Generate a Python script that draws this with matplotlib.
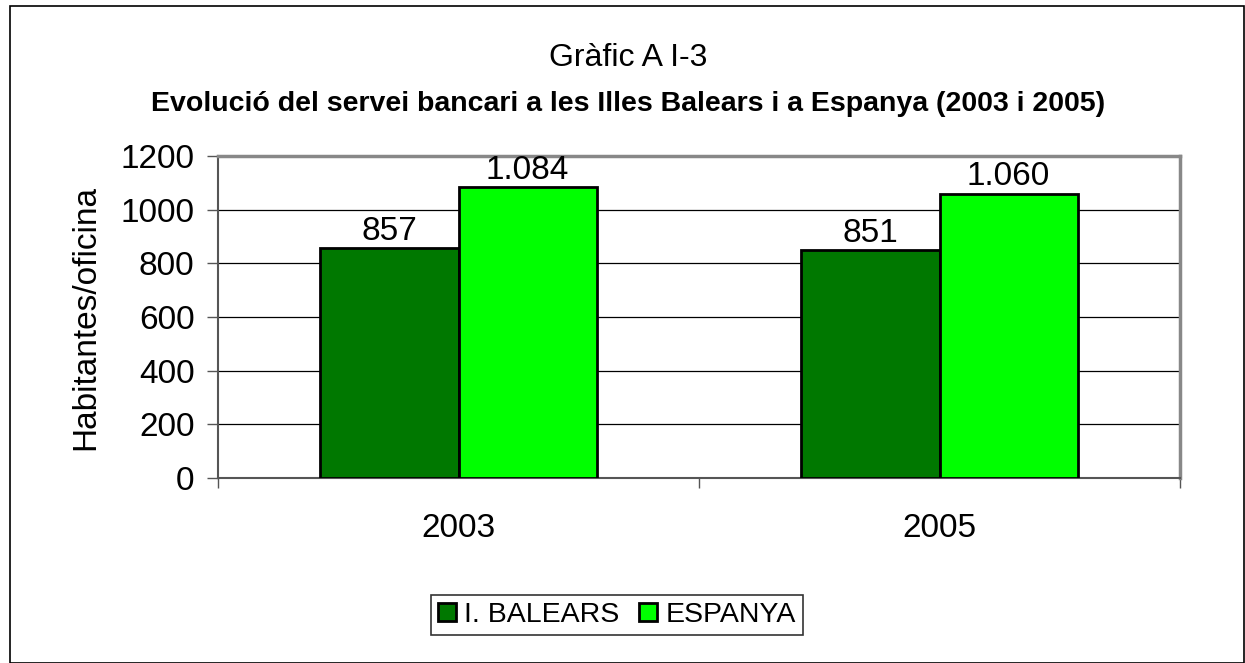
import matplotlib.pyplot as plt
from matplotlib.patches import Rectangle
import numpy as np

years = ["2003", "2005"]
series = ["I. BALEARS", "ESPANYA"]
balears = [857, 851]
espanya = [1084, 1060]
bar_labels = [["857", "851"], ["1.084", "1.060"]]
colors = ["#007800", "#00FF00"]

plt.rcParams["font.family"] = ["Liberation Sans", "DejaVu Sans"]

fig = plt.figure(figsize=(12.45, 6.63), dpi=100)
ax = fig.add_axes([218 / 1245, 1 - 478 / 663, 962 / 1245, 322 / 663])

# outer frame of the chart
fig.patches.append(Rectangle((10 / 1245, 0), 1234 / 1245, 1 - 6 / 663,
                             transform=fig.transFigure, fill=False,
                             edgecolor="black", linewidth=1.2))

x = np.arange(len(years))
w = 0.287
for i, vals in enumerate([balears, espanya]):
    pos = x + (i - 0.5) * w
    ax.bar(pos, vals, w, color=colors[i], edgecolor="black", linewidth=2,
           label=series[i], zorder=3)
    for p, v, t in zip(pos, vals, bar_labels[i]):
        ax.text(p, v + 4, t, ha="center", va="bottom", fontsize=24)

ax.set_xlim(-0.5, 1.5)
ax.set_ylim(0, 1200)
ax.set_yticks(range(0, 1201, 200))
ax.yaxis.grid(True, color="black", linewidth=0.9)
ax.set_axisbelow(True)
ax.tick_params(axis="y", labelsize=24, length=8, pad=9, direction="out", width=1, color="#555555")
ax.set_xticks(x)
ax.set_xticklabels(years)
ax.tick_params(axis="x", labelsize=24, length=0, pad=25)
ax.set_xticks([-0.5, 0.5, 1.5], minor=True)
ax.tick_params(axis="x", which="minor", length=7, color="#555555", width=1)

ax.spines["top"].set_color("#888888")
ax.spines["right"].set_color("#888888")
ax.spines["top"].set_linewidth(2.5)
ax.spines["right"].set_linewidth(2.5)
ax.spines["left"].set_color("#555555")
ax.spines["bottom"].set_color("#555555")
ax.spines["left"].set_linewidth(1.5)
ax.spines["bottom"].set_linewidth(1.5)

ax.set_ylabel("Habitantes/oficina", fontsize=24, labelpad=14)

fig.text(628 / 1245, 1 - 58 / 663, "Gràfic A I-3", ha="center", va="center", fontsize=23)
fig.text(628 / 1245, 1 - 104 / 663,
         "Evolució del servei bancari a les Illes Balears i a Espanya (2003 i 2005)",
         ha="center", va="center", fontsize=20.5, fontweight="bold")

leg = fig.legend(loc="center", bbox_to_anchor=(617 / 1245, 1 - 615 / 663), ncol=2,
                 fontsize=20.5, frameon=True, fancybox=False, edgecolor="black",
                 handlelength=0.62, handleheight=0.62, handletextpad=0.3,
                 columnspacing=0.7, borderpad=0.25, borderaxespad=0)
leg.get_frame().set_linewidth(1.2)

fig.savefig("out.png", dpi=100)
